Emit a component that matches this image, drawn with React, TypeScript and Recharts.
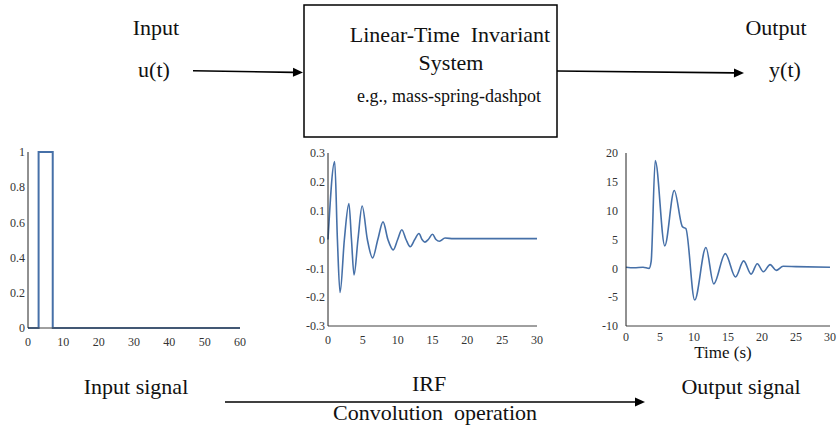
import { Label, Line, LineChart, XAxis, YAxis } from "recharts";

// input pulse u(t)
const pulseT = [0, 3, 3, 7, 7, 60];
const pulseU = [0, 0, 1, 1, 0, 0];
const pulseXTicks = [0, 10, 20, 30, 40, 50, 60];
const pulseYTicks = [0, 0.2, 0.4, 0.6, 0.8, 1];

// impulse response function
const irfT = [
  0, 0.96, 1.35, 1.73, 2.35, 3.0, 3.37, 3.74, 4.3, 4.9, 5.65, 6.4, 7.15, 7.9,
  8.6, 9.36, 10.0, 10.6, 11.2, 11.8, 12.45, 13.06, 13.5, 13.9, 14.4, 15.0,
  15.5, 16.0, 16.8, 18, 30,
];
const irfH = [
  0, 0.27, 0, -0.184, 0, 0.125, 0, -0.123, 0, 0.116, 0, -0.064, 0, 0.061, 0,
  -0.036, 0, 0.034, 0, -0.025, 0, 0.021, 0, -0.009, 0, 0.018, 0, -0.006,
  0.005, 0.003, 0.003,
];
const irfXTicks = [0, 5, 10, 15, 20, 25, 30];
const irfYTicks = [-0.3, -0.2, -0.1, 0, 0.1, 0.2, 0.3];

// output y(t)
const outT = [
  0, 1.2, 2.5, 3.4, 3.7, 4.3, 5.7, 7.1, 8.3, 8.8, 10.1, 11.75, 12.9, 14.6,
  16.1, 17.3, 18.4, 19.3, 20.2, 21.2, 22.1, 23.1, 25, 30,
];
const outY = [
  0.2, 0.1, 0.2, 0, 1.2, 18.7, 3.9, 13.5, 7.2, 6.9, -5.5, 3.6, -2.7, 2.55,
  -1.5, 1.3, -1.0, 0.8, -0.6, 0.65, -0.35, 0.35, 0.3, 0.2,
];
const outXTicks = [0, 5, 10, 15, 20, 25, 30];
const outYTicks = [-10, -5, 0, 5, 10, 15, 20];

const pulseData = pulseT.map((t, i) => ({ t, v: pulseU[i] }));
const irfData = irfT.map((t, i) => ({ t, v: irfH[i] }));
const outData = outT.map((t, i) => ({ t, v: outY[i] }));

const SERIF = "'Liberation Serif', 'Times New Roman', serif";
const BLUE = "#4670a8";
const AXIS = "#404040";
const tickStyle = { fill: "#333", fontSize: 12, fontFamily: SERIF };

const fmt = (v: number) => String(Math.round(v * 10) / 10);

function Arrow({ x1, y1, x2, y2 }: { x1: number; y1: number; x2: number; y2: number }) {
  const a = Math.atan2(y2 - y1, x2 - x1);
  const len = 10;
  const w = 4.5;
  const bx = x2 - len * Math.cos(a);
  const by = y2 - len * Math.sin(a);
  const px = -Math.sin(a) * w;
  const py = Math.cos(a) * w;
  return (
    <g>
      <line x1={x1} y1={y1} x2={bx} y2={by} stroke="#000" strokeWidth={1.6} />
      <polygon
        points={`${x2},${y2} ${bx + px},${by + py} ${bx - px},${by - py}`}
        fill="#000"
      />
    </g>
  );
}

function T({ x, y, size = 22, children }: { x: number; y: number; size?: number; children: string }) {
  return (
    <text
      x={x}
      y={y}
      textAnchor="middle"
      fontFamily={SERIF}
      fontSize={size}
      fill="#111"
      style={{ whiteSpace: "pre" }}
    >
      {children}
    </text>
  );
}

export default function App() {
  return (
    <div
      style={{
        position: "absolute",
        left: 0,
        top: 0,
        width: 838,
        height: 438,
        background: "#fff",
        overflow: "hidden",
        fontFamily: SERIF,
      }}
    >
      {/* block diagram */}
      <svg width={838} height={438} style={{ position: "absolute", left: 0, top: 0 }}>
        <rect x={304} y={5} width={253} height={132} fill="none" stroke="#000" strokeWidth={1.5} />
        <T x={156} y={35}>Input</T>
        <T x={154} y={77}>u(t)</T>
        <T x={776} y={35}>Output</T>
        <T x={785} y={77}>y(t)</T>
        <T x={450} y={42}>{"Linear-Time  Invariant"}</T>
        <T x={451} y={70}>System</T>
        <T x={449} y={102} size={18}>e.g., mass-spring-dashpot</T>
        <Arrow x1={193} y1={70.7} x2={303} y2={72.5} />
        <Arrow x1={557} y1={71} x2={744} y2={73} />

        <T x={136} y={394}>Input signal</T>
        <T x={429} y={391}>IRF</T>
        <T x={741} y={394}>Output signal</T>
        <T x={435} y={420}>{"Convolution  operation"}</T>
        <Arrow x1={225} y1={402} x2={645} y2={402} />
      </svg>

      {/* input signal */}
      <div style={{ position: "absolute", left: 0, top: 140 }}>
        <LineChart width={250} height={213} data={pulseData} margin={{ top: 12, right: 10, left: 0, bottom: 0 }}>
          <XAxis
            dataKey="t"
            type="number"
            domain={[0, 60]}
            ticks={pulseXTicks}
            tickLine={false}
            tickSize={0}
            tickMargin={9}
            height={25}
            axisLine={{ stroke: AXIS }}
            tick={tickStyle}
            interval={0}
          />
          <YAxis
            type="number"
            domain={[0, 1]}
            ticks={pulseYTicks}
            tickFormatter={fmt}
            tickLine={false}
            tickSize={0}
            tickMargin={3}
            width={28}
            axisLine={{ stroke: "#222" }}
            tick={tickStyle}
            interval={0}
          />
          <Line dataKey="v" type="linear" stroke={BLUE} strokeWidth={2} dot={false} isAnimationActive={false} />
        </LineChart>
      </div>

      {/* IRF */}
      <div style={{ position: "absolute", left: 300, top: 140 }}>
        <LineChart width={250} height={211} data={irfData} margin={{ top: 13, right: 13, left: 0, bottom: 0 }}>
          <XAxis
            dataKey="t"
            type="number"
            domain={[0, 30]}
            ticks={irfXTicks}
            tickLine={false}
            tickSize={0}
            tickMargin={9}
            height={25}
            axisLine={{ stroke: AXIS }}
            tick={tickStyle}
            interval={0}
          />
          <YAxis
            type="number"
            domain={[-0.3, 0.3]}
            ticks={irfYTicks}
            tickFormatter={fmt}
            tickLine={false}
            tickSize={0}
            tickMargin={3}
            width={28}
            axisLine={{ stroke: "#222" }}
            tick={tickStyle}
            interval={0}
          />
          <Line dataKey="v" type="monotone" stroke={BLUE} strokeWidth={1.6} dot={false} isAnimationActive={false} />
        </LineChart>
      </div>

      {/* output signal */}
      <div style={{ position: "absolute", left: 590, top: 140 }}>
        <LineChart width={248} height={226} data={outData} margin={{ top: 13, right: 8, left: 0, bottom: 0 }}>
          <XAxis
            dataKey="t"
            type="number"
            domain={[0, 30]}
            ticks={outXTicks}
            tickLine={false}
            tickSize={0}
            tickMargin={6}
            height={40}
            axisLine={{ stroke: AXIS }}
            tick={tickStyle}
            interval={0}
          >
            <Label
              value="Time (s)"
              position="insideBottom"
              offset={8}
              dx={-5}
              fontSize={17}
              fill="#111"
            />
          </XAxis>
          <YAxis
            type="number"
            domain={[-10, 20]}
            ticks={outYTicks}
            tickLine={false}
            tickSize={0}
            tickMargin={8}
            width={36}
            axisLine={{ stroke: "#222" }}
            tick={tickStyle}
            interval={0}
          />
          <Line dataKey="v" type="monotone" stroke={BLUE} strokeWidth={1.6} dot={false} isAnimationActive={false} />
        </LineChart>
      </div>
    </div>
  );
}
